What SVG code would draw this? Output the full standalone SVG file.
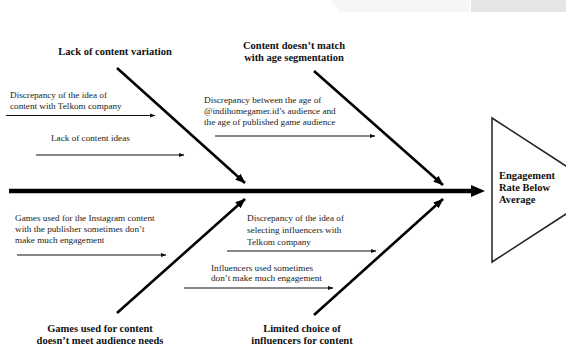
<svg xmlns="http://www.w3.org/2000/svg" width="566" height="345" viewBox="0 0 566 345">
<style>
.t{font-family:"Liberation Serif","Times New Roman",serif;font-size:9.2px;fill:#222}
.b{font-family:"Liberation Serif","Times New Roman",serif;font-size:10.5px;font-weight:bold;fill:#111;text-anchor:middle}
.bl{font-family:"Liberation Serif","Times New Roman",serif;font-size:10.5px;font-weight:bold;fill:#111}
.sm{stroke:#111;stroke-width:1;fill:none;marker-end:url(#ms)}
.dg{stroke:#000;stroke-width:2.6;fill:none;marker-end:url(#ml)}
</style>
<defs>
<marker id="ms" viewBox="0 0 6 6" refX="5.5" refY="3" markerWidth="6" markerHeight="6" markerUnits="userSpaceOnUse" orient="auto"><path d="M0,0.8 L6,3 L0,5.2 Z" fill="#111"/></marker>
<marker id="ml" viewBox="0 0 10 8" refX="9.5" refY="4" markerWidth="10" markerHeight="8" markerUnits="userSpaceOnUse" orient="auto"><path d="M0,0 L10,4 L0,8 Z" fill="#000"/></marker>
</defs>
<rect width="566" height="345" fill="#fff"/>
<g id="topbar">
<polygon points="330,0 470,0 470,12 340,12" fill="#f6f6f6"/>
<rect x="471" y="0" width="95" height="12" fill="#e5e5e8"/>
</g>
<g id="connectors">
<line x1="9" y1="191" x2="472" y2="191" stroke="#000" stroke-width="4.5"/>
<polygon points="471,185 485,191 471,197" fill="#000"/>
<line class="dg" x1="117" y1="68" x2="245" y2="183"/>
<line class="dg" x1="314" y1="71" x2="443" y2="185"/>
<line class="dg" x1="117" y1="313" x2="245" y2="199"/>
<line class="dg" x1="314" y1="315" x2="443" y2="199"/>
<line class="sm" x1="6" y1="115.5" x2="155" y2="115.5"/>
<line class="sm" x1="36" y1="155" x2="184" y2="155"/>
<line class="sm" x1="215" y1="136" x2="375" y2="136"/>
<line class="sm" x1="17" y1="255" x2="166" y2="255"/>
<line class="sm" x1="227" y1="251" x2="376" y2="251"/>
<line class="sm" x1="184" y1="288" x2="333" y2="288"/>
</g>
<g id="effect">
<polygon points="492,118 603,190 492,262" fill="#fff" stroke="#222" stroke-width="1.5"/>
<text class="bl" x="499" y="179">Engagement</text>
<text class="bl" x="499" y="191">Rate Below</text>
<text class="bl" x="499" y="203">Average</text>
</g>
<g id="cat-variation">
<text class="b" x="115" y="54.5">Lack of content variation</text>
</g>
<g id="cat-age">
<text class="b" x="294" y="48.5">Content doesn’t match</text>
<text class="b" x="294" y="60.5">with age segmentation</text>
</g>
<g id="cat-games">
<text class="b" x="100" y="331.5">Games used for content</text>
<text class="b" x="100" y="343.5">doesn’t meet audience needs</text>
</g>
<g id="cat-influencers">
<text class="b" x="302" y="331.5">Limited choice of</text>
<text class="b" x="302" y="343.5">influencers for content</text>
</g>
<g id="cause-idea-telkom">
<text class="t" x="10" y="98">Discrepancy of the idea of</text>
<text class="t" x="10" y="109">content with Telkom company</text>
</g>
<g id="cause-ideas">
<text class="t" x="51" y="141">Lack of content ideas</text>
</g>
<g id="cause-age">
<text class="t" x="204" y="103">Discrepancy between the age of</text>
<text class="t" x="204" y="114">@indihomegamer.id’s audience and</text>
<text class="t" x="204" y="125">the age of published game audience</text>
</g>
<g id="cause-games-publisher">
<text class="t" x="15" y="221">Games used for the Instagram content</text>
<text class="t" x="15" y="232">with the publisher sometimes don’t</text>
<text class="t" x="15" y="243">make much engagement</text>
</g>
<g id="cause-influencer-telkom">
<text class="t" x="247" y="221">Discrepancy of the idea of</text>
<text class="t" x="247" y="233">selecting influencers with</text>
<text class="t" x="247" y="245">Telkom company</text>
</g>
<g id="cause-influencer-engagement">
<text class="t" x="211" y="271">Influencers used sometimes</text>
<text class="t" x="211" y="281">don’t make much engagement</text>
</g>
</svg>
